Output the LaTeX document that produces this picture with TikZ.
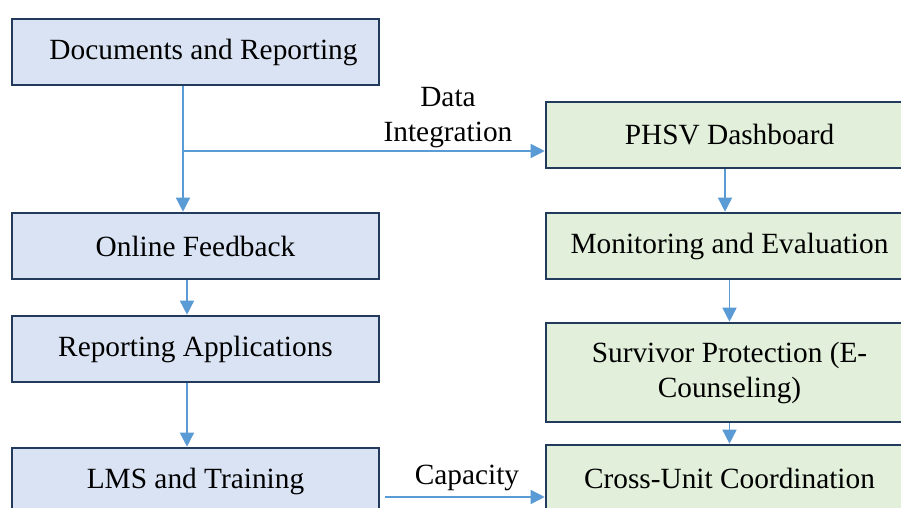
\documentclass[tikz,border=0pt]{standalone}
\usepackage{fontspec}
\setmainfont{Liberation Serif}
\usetikzlibrary{arrows.meta}
\definecolor{boxline}{RGB}{34,58,92}
\definecolor{bluefill}{RGB}{218,227,243}
\definecolor{greenfill}{RGB}{226,239,218}
\definecolor{flowline}{RGB}{91,155,213}
\tikzset{
  box/.style={draw=boxline, line width=1.3pt, minimum width=183.5pt,
    minimum height=33pt, inner sep=2pt, align=center,
    font=\fontsize{14.67pt}{17.5pt}\selectfont},
  bluebox/.style={box, fill=bluefill},
  greenbox/.style={box, fill=greenfill},
  flow/.style={draw=flowline, line width=0.75pt,
    -{Triangle[width=7pt,length=7pt]}},
  flowlabel/.style={inner sep=0pt, align=center,
    font=\fontsize{14.67pt}{17.5pt}\selectfont}
}
\begin{document}
\begin{tikzpicture}[x=0.5pt,y=-0.5pt]
  \clip (0,0) rectangle (901,508);
  \fill[white] (0,0) rectangle (901,508);

  \node[bluebox] (docs) at (195.5,52) {\hspace*{8pt}Documents and Reporting};
  \node[bluebox] (online) at (195.5,246) {Online Feedback};
  \node[bluebox] (rep) at (195.5,349) {Reporting Applications};
  \node[bluebox] (lms) at (195.5,481) {LMS and Training};

  \node[greenbox] (phsv) at (729.5,135) {PHSV Dashboard};
  \node[greenbox] (mon) at (729.5,246) {Monitoring and Evaluation};
  \node[greenbox, minimum height=49.5pt] (surv) at (729.5,372.5)
    {Survivor Protection (E-\\Counseling)};
  \node[greenbox] (cross) at (729.5,478) {Cross-Unit Coordination};

  \draw[flow] ([xshift=-6.25pt]docs.south) -- ([xshift=-6.25pt]online.north);
  \coordinate (split) at (183,151);
  \draw[flow] (split) -- (split -| phsv.west);
  \node[flowlabel] (datalabel) at (448,118) {Data\\Integration};

  \foreach \From/\To in {online/rep, rep/lms}{
    \draw[flow] ([xshift=-4.25pt]\From.south) -- ([xshift=-4.25pt]\To.north);
  }
  \draw[flow] ([xshift=-2.25pt]phsv.south) -- ([xshift=-2.25pt]mon.north);
  \foreach \From/\To in {mon/surv, surv/cross}{
    \draw[flow] (\From.south) -- (\To.north);
  }

  \draw[flow] ([xshift=2.5pt]lms.east |- 0,497) -- (cross.west |- 0,497);
  \node[flowlabel] (caplabel) at (467,478) {Capacity};

\end{tikzpicture}
\end{document}
